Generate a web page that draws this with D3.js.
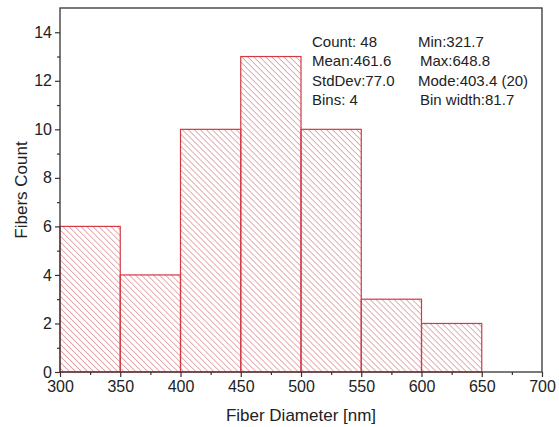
<!DOCTYPE html>
<html>
<head>
<meta charset="utf-8">
<script src="https://cdn.jsdelivr.net/npm/d3@7"></script>
<style>
  body { margin: 0; background: #fff; }
  text { font-family: "Liberation Sans", Arial, sans-serif; fill: #222; }
</style>
</head>
<body>
<svg id="hist" width="559" height="427"></svg>
<script>
// histogram bins (nm) and counts
var binStart = [300, 350, 400, 450, 500, 550, 600];
var binEnd   = [350, 400, 450, 500, 550, 600, 650];
var counts   = [6, 4, 10, 13, 10, 3, 2];

var xTicks = [300, 350, 400, 450, 500, 550, 600, 650, 700];
var yTicks = [0, 2, 4, 6, 8, 10, 12, 14];

var statsLeft  = ["Count: 48", "Mean:461.6", "StdDev:77.0", "Bins: 4"];
var statsRight = ["Min:321.7", "Max:648.8", "Mode:403.4 (20)", "Bin width:81.7"];

var margin = {top: 8, right: 17, bottom: 55, left: 60},
    width = 559 - margin.left - margin.right,
    height = 427 - margin.top - margin.bottom;

var svg = d3.select("#hist");

// hatch pattern ("\" direction)
var defs = svg.append("defs");
var pat = defs.append("pattern")
  .attr("id", "hatch")
  .attr("patternUnits", "userSpaceOnUse")
  .attr("width", 4.25)
  .attr("height", 4.25)
  .attr("patternTransform", "rotate(-45)");
pat.append("line")
  .attr("x1", 0).attr("y1", 0)
  .attr("x2", 0).attr("y2", 4.25)
  .attr("stroke", "#c24852")
  .attr("stroke-width", 0.9);

var g = svg.append("g")
  .attr("transform", "translate(" + margin.left + "," + margin.top + ")");

var x = d3.scaleLinear().domain([300, 700]).range([0, width]);
var y = d3.scaleLinear().domain([0, 15]).range([height, 0]);

// bars
var bins = counts.map(function(c, i) {
  return {x0: binStart[i], x1: binEnd[i], n: c};
});
g.selectAll(".bar")
  .data(bins)
  .enter().append("rect")
  .attr("class", "bar")
  .attr("x", function(d) { return x(d.x0); })
  .attr("y", function(d) { return y(d.n); })
  .attr("width", function(d) { return x(d.x1) - x(d.x0); })
  .attr("height", function(d) { return height - y(d.n); })
  .attr("fill", "url(#hatch)")
  .attr("stroke", "#d23a43")
  .attr("stroke-width", 1.2);

// frame
g.append("rect")
  .attr("width", width)
  .attr("height", height)
  .attr("fill", "none")
  .attr("stroke", "#333")
  .attr("stroke-width", 1.3);

// minor ticks
var xMinor = d3.axisBottom(x).tickValues(d3.range(325, 700, 50)).tickSize(3).tickFormat("");
g.append("g").attr("transform", "translate(0," + height + ")").call(xMinor);
var yMinor = d3.axisLeft(y).tickValues(d3.range(1, 15, 2)).tickSize(3).tickFormat("");
g.append("g").call(yMinor);

// major axes
var xAxis = d3.axisBottom(x).tickValues(xTicks).tickSize(5).tickPadding(4);
g.append("g")
  .attr("id", "xAxis")
  .attr("transform", "translate(0," + height + ")")
  .call(xAxis);
var yAxis = d3.axisLeft(y).tickValues(yTicks).tickSize(5).tickPadding(3);
g.append("g")
  .attr("id", "yAxis")
  .call(yAxis);

g.selectAll(".domain").remove();
g.selectAll(".tick line").attr("stroke", "#333").attr("stroke-width", 1.2);
g.selectAll(".tick text").style("font-size", "16px").style("font-family", "Liberation Sans, Arial, sans-serif").attr("fill", "#222");

// axis titles
svg.append("text")
  .attr("x", margin.left + width / 2)
  .attr("y", 421)
  .attr("text-anchor", "middle")
  .style("font-size", "17px")
  .text("Fiber Diameter [nm]");
svg.append("text")
  .attr("transform", "translate(27," + (margin.top + height / 2) + ") rotate(-90)")
  .attr("text-anchor", "middle")
  .style("font-size", "17px")
  .text("Fibers Count");

// stats box
var statY = [47, 66, 85.5, 105];
svg.selectAll(".statL")
  .data(statsLeft)
  .enter().append("text")
  .attr("class", "statL")
  .attr("x", 312)
  .attr("y", function(d, i) { return statY[i]; })
  .style("font-size", "15px")
  .text(function(d) { return d; });
var rightX = [418, 420, 418, 420];
svg.selectAll(".statR")
  .data(statsRight)
  .enter().append("text")
  .attr("class", "statR")
  .attr("x", function(d, i) { return rightX[i]; })
  .attr("y", function(d, i) { return statY[i]; })
  .style("font-size", "15px")
  .text(function(d) { return d; });
</script>
</body>
</html>
